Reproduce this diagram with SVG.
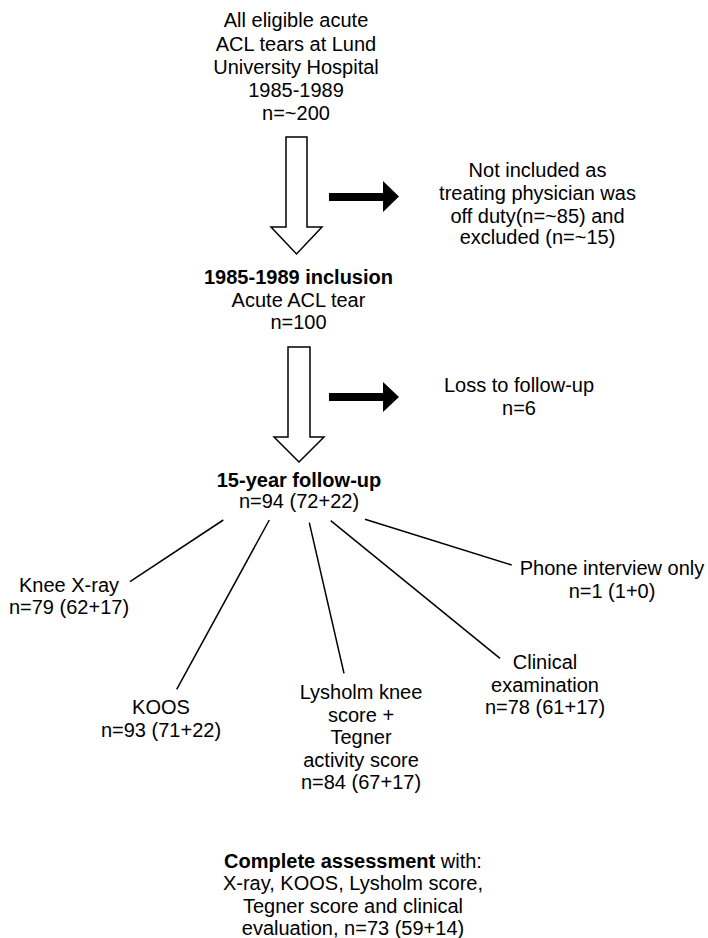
<svg xmlns="http://www.w3.org/2000/svg" width="708" height="938" viewBox="0 0 708 938">
<style>
text{font-family:"Liberation Sans",Arial,sans-serif;font-size:20px;fill:#000;text-anchor:middle}
.b{font-weight:bold}
.hollow{fill:#fff;stroke:#000;stroke-width:1.5}
.solid{fill:#000;stroke:none}
.conn line{stroke:#000;stroke-width:1.5}
</style>
<g id="source">
<text x="296" y="27">All eligible acute</text>
<text x="296" y="50.5">ACL tears at Lund</text>
<text x="296" y="74">University Hospital</text>
<text x="296" y="97">1985-1989</text>
<text x="296" y="120">n=~200</text>
</g>
<g id="excluded">
<text x="537.5" y="177">Not included as</text>
<text x="537.5" y="200">treating physician was</text>
<text x="537.5" y="222.5">off duty(n=~85) and</text>
<text x="537.5" y="244">excluded (n=~15)</text>
</g>
<g id="inclusion">
<text x="298.5" y="284" class="b">1985-1989 inclusion</text>
<text x="298.5" y="306.5">Acute ACL tear</text>
<text x="298.5" y="329">n=100</text>
</g>
<g id="loss">
<text x="519" y="391.5">Loss to follow-up</text>
<text x="519" y="414.5">n=6</text>
</g>
<g id="followup">
<text x="299" y="486.5" class="b">15-year follow-up</text>
<text x="299" y="508">n=94 (72+22)</text>
</g>
<g id="xray">
<text x="69" y="591.5">Knee X-ray</text>
<text x="69" y="614">n=79 (62+17)</text>
</g>
<g id="koos">
<text x="161" y="714">KOOS</text>
<text x="161" y="736.5">n=93 (71+22)</text>
</g>
<g id="lysholm">
<text x="361" y="699">Lysholm knee</text>
<text x="361" y="721.5">score +</text>
<text x="361" y="744">Tegner</text>
<text x="361" y="766.5">activity score</text>
<text x="361" y="789">n=84 (67+17)</text>
</g>
<g id="clinical">
<text x="545" y="669">Clinical</text>
<text x="545" y="691.5">examination</text>
<text x="545" y="714">n=78 (61+17)</text>
</g>
<g id="phone">
<text x="612" y="575">Phone interview only</text>
<text x="612" y="598">n=1 (1+0)</text>
</g>
<g id="complete">
<text x="353" y="868"><tspan class="b">Complete assessment</tspan> with:</text>
<text x="353" y="890">X-ray, KOOS, Lysholm score,</text>
<text x="353" y="913">Tegner score and clinical</text>
<text x="353" y="935.3">evaluation, n=73 (59+14)</text>
</g>
<g id="connectors" class="conn">
<polygon class="hollow" points="286,137 307,137 307,227 322,227 296.5,254 271,227 286,227"/>
<polygon class="hollow" points="288,347 310,347 310,437 324,437 299,462 274,437 288,437"/>
<polygon class="solid" points="329,193 383,193 383,181 399,196.5 383,212 383,201 329,201"/>
<polygon class="solid" points="329,393 383,393 383,382 399,397 383,412 383,401 329,401"/>
<line x1="223.3" y1="520" x2="130" y2="581.7"/>
<line x1="269.3" y1="520" x2="176.7" y2="689.3"/>
<line x1="309.3" y1="522.7" x2="344" y2="673.3"/>
<line x1="330.7" y1="520.7" x2="500" y2="658.3"/>
<line x1="365" y1="519.3" x2="511.7" y2="565"/>
</g>
</svg>
